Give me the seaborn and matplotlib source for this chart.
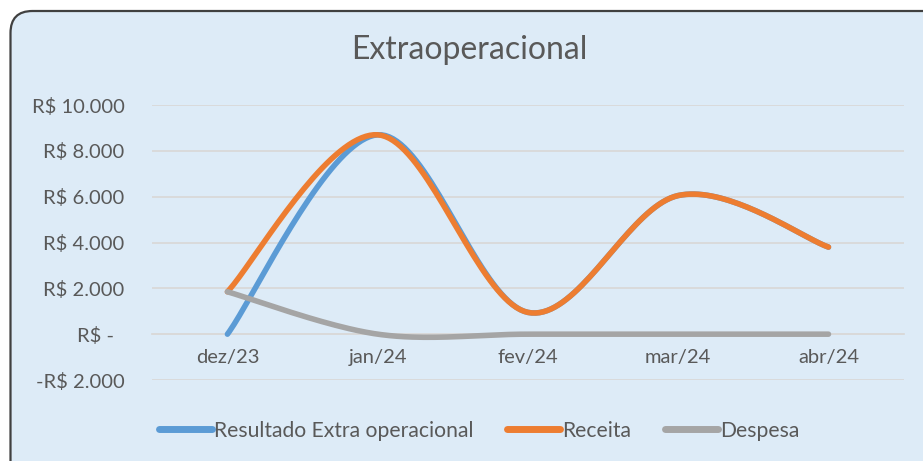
import numpy as np
import pandas as pd
import matplotlib
matplotlib.use('Agg')
import matplotlib.pyplot as plt
from matplotlib.patches import FancyBboxPatch
import seaborn as sns

# chart values (R$)
months = ['dez/23', 'jan/24', 'fev/24', 'mar/24', 'abr/24']
resultado = [0, 8700, 950, 6050, 3800]
receita = [1850, 8700, 950, 6050, 3800]
despesa = [1850, 0, 0, 0, 0]
series_names = ['Resultado Extra operacional', 'Receita', 'Despesa']
colors = ['#5B9BD5', '#ED7D31', '#A5A5A5']
yticks = [-2000, 0, 2000, 4000, 6000, 8000, 10000]
ytick_labels = ['-R$ 2.000', 'R$ -  ', 'R$ 2.000', 'R$ 4.000', 'R$ 6.000', 'R$ 8.000', 'R$ 10.000']

text_col = '#595959'
bg = '#DDEBF7'


# excel-like smoothed line: catmull-rom bezier through the points
def smooth(vals, n=40):
    pts = np.array([[i, v] for i, v in enumerate(vals)], dtype=float)
    ext = np.vstack([pts[0], pts, pts[-1]])
    out = []
    for i in range(len(pts) - 1):
        p0, p1, p2, p3 = ext[i], ext[i + 1], ext[i + 2], ext[i + 3]
        c1 = p1 + (p2 - p0) / 6
        c2 = p2 - (p3 - p1) / 6
        t = np.linspace(0, 1, n)[:, None]
        seg = (1 - t) ** 3 * p1 + 3 * (1 - t) ** 2 * t * c1 + 3 * (1 - t) * t ** 2 * c2 + t ** 3 * p2
        out.append(seg if i == 0 else seg[1:])
    return np.vstack(out)


frames = []
for name, vals in zip(series_names, [resultado, receita, despesa]):
    s = smooth(vals)
    frames.append(pd.DataFrame({'x': s[:, 0], 'y': s[:, 1], 'serie': name}))
df = pd.concat(frames, ignore_index=True)

sns.set_style('white')
plt.rcParams['font.family'] = ['Lato', 'DejaVu Sans']

fig = plt.figure(figsize=(9.23, 4.61), dpi=100)
fig.patch.set_facecolor('white')
box = FancyBboxPatch((0.105, -0.5), 9.6, 5.0, boxstyle='round,pad=0,rounding_size=0.22',
                     transform=fig.dpi_scale_trans, facecolor=bg, edgecolor='#404040',
                     linewidth=1.6, zorder=-5)
fig.patches.append(box)

ax = fig.add_axes([0.165, 0.1757, 0.814, 0.5965])
ax.set_zorder(2)
ax.set_facecolor('none')

sns.lineplot(data=df, x='x', y='y', hue='serie', palette=colors, hue_order=series_names,
             sort=False, estimator=None, linewidth=4.0,
             solid_capstyle='round', ax=ax, zorder=3)

ax.set_xlim(-0.5, 4.5)
ax.set_ylim(-2000, 10000)
ax.set_yticks(yticks)
ax.set_yticklabels(ytick_labels)
ax.set_xticks(range(len(months)))
ax.set_xticklabels(months)
ax.set_xticks(np.arange(-0.5, 4.6, 1), minor=True)
ax.grid(axis='y', color='#D9D9D9', linewidth=1.3, zorder=1)
ax.set_axisbelow(True)
for sp in ['top', 'right', 'left']:
    ax.spines[sp].set_visible(False)
ax.spines['bottom'].set_position(('data', 0))
ax.spines['bottom'].set_color('#D9D9D9')
ax.spines['bottom'].set_linewidth(1.3)
ax.tick_params(axis='y', length=0, pad=20, labelsize=14.5, labelcolor=text_col)
ax.tick_params(axis='x', which='major', length=0, pad=11, labelsize=14.5, labelcolor=text_col)
ax.tick_params(axis='x', which='minor', length=5, direction='out', color='#D9D9D9', width=1.3)
ax.set_xlabel('')
ax.set_ylabel('')

handles, labels = ax.get_legend_handles_labels()
ax.get_legend().remove()
for h in handles:
    h.set_linewidth(5)
    h.set_solid_capstyle('round')
fig.legend(handles, labels, loc='center left', bbox_to_anchor=(0.152, 0.066), ncol=3,
           frameon=False, fontsize=15.2, handlelength=2.5, handletextpad=0.1,
           columnspacing=1.6, labelcolor=text_col)

fig.text(0.508, 0.892, 'Extraoperacional', ha='center', va='center', fontsize=23, color=text_col)

fig.savefig('out.png', dpi=100, facecolor='white')
